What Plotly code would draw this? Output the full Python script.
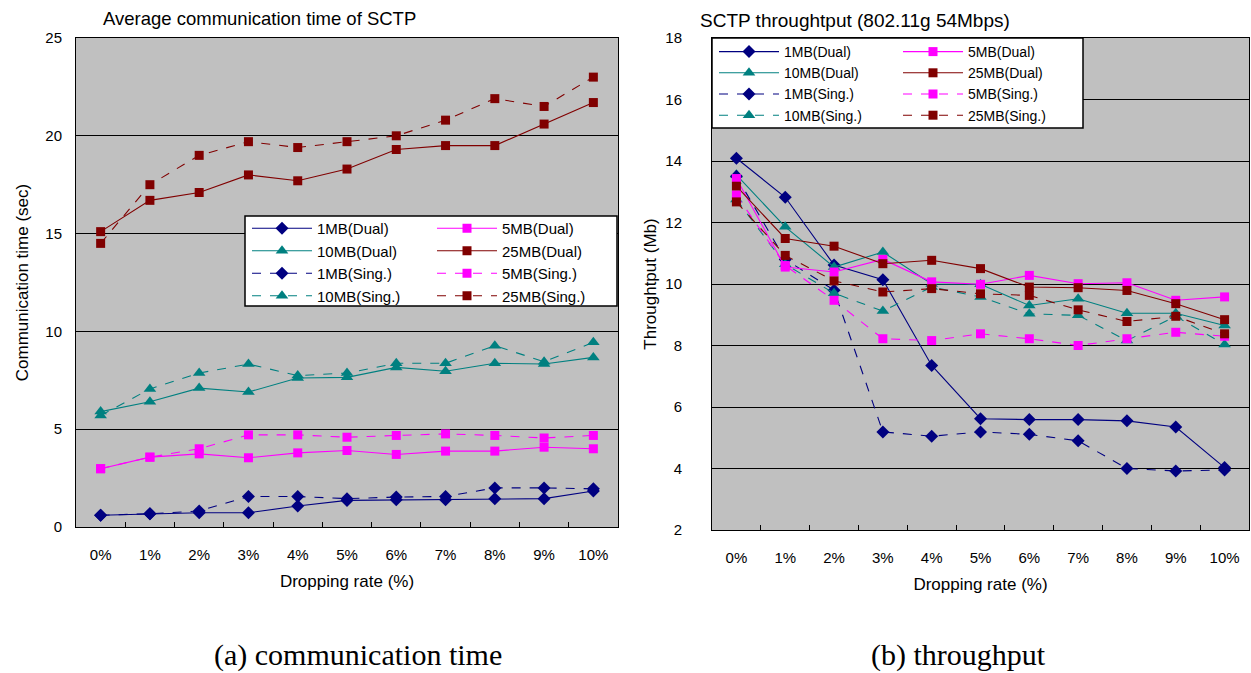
import plotly.graph_objects as go

# Dropping-rate categories shared by both panels
rates = ["0%", "1%", "2%", "3%", "4%", "5%", "6%", "7%", "8%", "9%", "10%"]

# (a) Average communication time of SCTP (sec)
time_1mb_dual = [0.6, 0.68, 0.73, 0.73, 1.07, 1.36, 1.39, 1.39, 1.45, 1.45, 1.84]
time_5mb_dual = [2.98, 3.57, 3.74, 3.54, 3.79, 3.91, 3.71, 3.88, 3.88, 4.08, 4.0]
time_10mb_dual = [5.9, 6.4, 7.1, 6.9, 7.62, 7.65, 8.16, 7.96, 8.37, 8.33, 8.67]
time_25mb_dual = [15.1, 16.7, 17.1, 18.0, 17.7, 18.3, 19.3, 19.5, 19.5, 20.6, 21.7]
time_1mb_sing = [0.6, 0.68, 0.82, 1.56, 1.56, 1.45, 1.53, 1.56, 2.0, 2.0, 1.95]
time_5mb_sing = [2.98, 3.57, 4.0, 4.71, 4.71, 4.59, 4.68, 4.76, 4.68, 4.55, 4.68]
time_10mb_sing = [5.7, 7.06, 7.87, 8.33, 7.74, 7.87, 8.37, 8.37, 9.27, 8.45, 9.44]
time_25mb_sing = [14.5, 17.5, 19.0, 19.7, 19.4, 19.7, 20.0, 20.8, 21.9, 21.5, 23.0]

# (b) SCTP throughput (Mb)
tput_1mb_dual = [14.09, 12.82, 10.62, 10.14, 7.35, 5.62, 5.59, 5.59, 5.55, 5.35, 4.03]
tput_5mb_dual = [13.43, 10.55, 10.39, 10.8, 10.07, 9.99, 10.28, 10.01, 10.04, 9.47, 9.58]
tput_10mb_dual = [13.55, 11.86, 10.55, 11.04, 10.0, 9.99, 9.3, 9.52, 9.05, 9.05, 8.65]
tput_25mb_dual = [13.18, 11.48, 11.23, 10.66, 10.77, 10.5, 9.9, 9.88, 9.79, 9.36, 8.84]
tput_1mb_sing = [13.5, 10.8, 9.8, 5.19, 5.05, 5.19, 5.11, 4.9, 4.0, 3.92, 3.95]
tput_5mb_sing = [12.89, 10.6, 9.47, 8.22, 8.16, 8.38, 8.22, 8.0, 8.22, 8.43, 8.3]
tput_10mb_sing = [12.75, 10.64, 9.7, 9.12, 9.9, 9.58, 9.03, 8.98, 8.16, 8.95, 8.03]
tput_25mb_sing = [12.67, 10.93, 10.1, 9.74, 9.85, 9.68, 9.63, 9.16, 8.78, 8.95, 8.38]

NAVY, MAGENTA, TEAL, MAROON = "#000080", "#FF00FF", "#008080", "#800000"
CHART_FONT = "Liberation Sans Narrow, Arial Narrow, Liberation Sans, Arial, sans-serif"
SERIF = "Liberation Serif, Times New Roman, serif"

W, H = 1251, 673


def fx(x):
    return x / W


def fy(y):
    return 1 - y / H


series_style = {
    "1MB": (NAVY, "diamond", 10),
    "5MB": (MAGENTA, "square", 9),
    "10MB": (TEAL, "triangle-up", 11),
    "25MB": (MAROON, "square", 9),
}

fig = go.Figure()


def add_series(values, size_key, kind, xa, ya, legend):
    color, symbol, msize = series_style[size_key]
    label = f"{size_key}(Dual)" if kind == "dual" else f"{size_key}(Sing.)"
    fig.add_trace(go.Scatter(
        x=rates, y=values, name=label, mode="lines+markers",
        xaxis=xa, yaxis=ya, legend=legend,
        line=dict(color=color, width=1.1, dash="solid" if kind == "dual" else "dash"),
        marker=dict(color=color, symbol=symbol, size=msize, line=dict(width=0)),
        hoverinfo="skip",
    ))


# Panel (a): column 1 of the legend holds 1MB/10MB, column 2 holds 5MB/25MB
add_series(time_1mb_dual, "1MB", "dual", "x", "y", "legend")
add_series(time_10mb_dual, "10MB", "dual", "x", "y", "legend")
add_series(time_1mb_sing, "1MB", "sing", "x", "y", "legend")
add_series(time_10mb_sing, "10MB", "sing", "x", "y", "legend")
add_series(time_5mb_dual, "5MB", "dual", "x", "y", "legend2")
add_series(time_25mb_dual, "25MB", "dual", "x", "y", "legend2")
add_series(time_5mb_sing, "5MB", "sing", "x", "y", "legend2")
add_series(time_25mb_sing, "25MB", "sing", "x", "y", "legend2")

# Panel (b)
add_series(tput_1mb_dual, "1MB", "dual", "x2", "y2", "legend3")
add_series(tput_10mb_dual, "10MB", "dual", "x2", "y2", "legend3")
add_series(tput_1mb_sing, "1MB", "sing", "x2", "y2", "legend3")
add_series(tput_10mb_sing, "10MB", "sing", "x2", "y2", "legend3")
add_series(tput_5mb_dual, "5MB", "dual", "x2", "y2", "legend4")
add_series(tput_25mb_dual, "25MB", "dual", "x2", "y2", "legend4")
add_series(tput_5mb_sing, "5MB", "sing", "x2", "y2", "legend4")
add_series(tput_25mb_sing, "25MB", "sing", "x2", "y2", "legend4")

tick_font = dict(family=CHART_FONT, size=15, color="black")
title_font = dict(family=CHART_FONT, size=17, color="black")

xaxis_common = dict(
    type="category", range=[-0.5, 10.5], tickson="boundaries",
    ticks="inside", ticklen=5, tickcolor="black",
    showline=True, linecolor="black", linewidth=1, mirror=True,
    showgrid=False, zeroline=False, tickfont=tick_font,
    ticklabelstandoff=14,
    title=dict(text="Dropping rate (%)", font=title_font, standoff=13),
)
yaxis_common = dict(
    showline=True, linecolor="black", linewidth=1, mirror=True,
    showgrid=True, gridcolor="black", gridwidth=1, zeroline=False,
    ticks="", tickfont=tick_font,
)

legend_common = dict(
    bgcolor="rgba(0,0,0,0)", borderwidth=0,
    xanchor="left", yanchor="top", orientation="v", itemwidth=60,
    tracegroupgap=0, itemclick=False, itemdoubleclick=False,
)
left_legend_font = dict(family=CHART_FONT, size=15, color="black")
right_legend_font = dict(family=CHART_FONT, size=14, color="black")

fig.update_layout(
    width=W, height=H,
    margin=dict(l=0, r=0, t=0, b=0, autoexpand=False),
    paper_bgcolor="white", plot_bgcolor="#C0C0C0",
    font=dict(family=CHART_FONT, color="black"),
    xaxis=dict(domain=[fx(76), fx(618)], anchor="y", **xaxis_common),
    yaxis=dict(domain=[fy(527), fy(38)], anchor="x", range=[0, 25], dtick=5,
               ticklabelstandoff=10,
               title=dict(text="Communication time (sec)", font=title_font, standoff=12),
               **yaxis_common),
    xaxis2=dict(domain=[fx(712), fx(1249)], anchor="y2", **xaxis_common),
    yaxis2=dict(domain=[fy(530), fy(38)], anchor="x2", range=[2, 18], dtick=2,
                ticklabelstandoff=26,
                title=dict(text="Throughtput (Mb)", font=title_font, standoff=4),
                **yaxis_common),
    legend=dict(x=fx(247), y=fy(212), font=left_legend_font, **legend_common),
    legend2=dict(x=fx(432), y=fy(212), font=left_legend_font, **legend_common),
    legend3=dict(x=fx(714), y=fy(36), font=right_legend_font, **legend_common),
    legend4=dict(x=fx(898), y=fy(36), font=right_legend_font, **legend_common),
    showlegend=True,
)

# White legend boxes with a thin black frame
for (x0, y0, x1, y1) in [(245, 216, 617, 306), (712, 38, 1083, 128)]:
    fig.add_shape(type="rect", xref="paper", yref="paper",
                  x0=fx(x0), x1=fx(x1), y0=fy(y1), y1=fy(y0),
                  fillcolor="white", line=dict(color="black", width=1.5), layer="above")

# Chart titles and panel captions
fig.add_annotation(text="Average communication time of SCTP", xref="paper", yref="paper",
                   x=fx(259), y=fy(18), xanchor="center", yanchor="middle", showarrow=False,
                   font=dict(family=CHART_FONT, size=18.5, color="black"))
fig.add_annotation(text="SCTP throughtput (802.11g 54Mbps)", xref="paper", yref="paper",
                   x=fx(855), y=fy(20), xanchor="center", yanchor="middle", showarrow=False,
                   font=dict(family=CHART_FONT, size=19, color="black"))
fig.add_annotation(text="(a) communication time", xref="paper", yref="paper",
                   x=fx(358), y=fy(655), xanchor="center", yanchor="middle", showarrow=False,
                   font=dict(family=SERIF, size=30, color="black"))
fig.add_annotation(text="(b) throughput", xref="paper", yref="paper",
                   x=fx(958), y=fy(655), xanchor="center", yanchor="middle", showarrow=False,
                   font=dict(family=SERIF, size=30, color="black"))

fig.write_html("out.html")
